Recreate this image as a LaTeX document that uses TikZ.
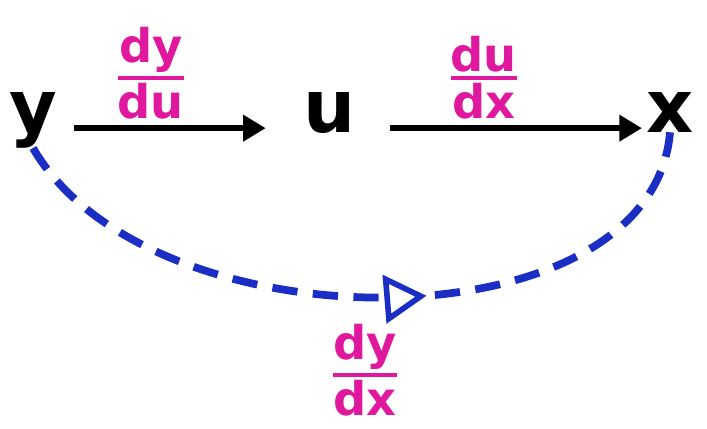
\documentclass[tikz,border=0pt]{standalone}
\usepackage{amsmath}
\usepackage{fontspec}
\setmainfont{DejaVu Sans}
\usetikzlibrary{arrows.meta, positioning, decorations.markings}
\definecolor{derivcol}{HTML}{E0189E}
\definecolor{backcol}{HTML}{1B2EC4}
\newcommand{\deriv}[2]{$\genfrac{}{}{2.6pt}{1}{\mbox{#1}}{\mbox{#2}}$}

\begin{document}
\begin{tikzpicture}[
  x=0.025cm, y=-0.025cm,
  >={Triangle[length=16pt, width=18pt]},
  var/.style={font=\fontsize{52}{56}\selectfont\bfseries, inner sep=0pt, anchor=base},
  dlabel/.style={text=derivcol, font=\fontsize{33}{35}\selectfont\bfseries, inner sep=0pt},
  arr/.style={->, line width=4.5pt},
  backarc/.style={backcol, line width=5.5pt, dash pattern=on 18pt off 11pt,
                  postaction={decorate},
                  decoration={markings, mark=at position 0.58 with
                    {\arrow[line width=4pt]{Triangle[fill=white, length=30pt, width=34pt]}}}}
]
\useasboundingbox (0,0) rectangle (707,428);

%% variables
\node[var] (y) at (33,132)  {y};
\node[var] (u) at (330,132) {u};
\node[var] (x) at (670,132) {x};

%% chain of derivatives
\draw[arr, shorten <=12pt, shorten >=27pt] (y.mid east) --
      node[dlabel, above=4pt, pos=0.38] (dyu) {\deriv{dy}{du}} (u.mid west);
\draw[arr, shorten <=24pt, shorten >=3pt] (u.mid east) --
      node[dlabel, above=4pt, pos=0.44] (dux) {\deriv{du}{dx}} (x.mid west);

%% direct derivative
\draw[backarc] (y.south) .. controls (150,350) and (652,350) .. (x.south);
\node[dlabel] (dyx) at (365,370) {\deriv{dy}{dx}};

\end{tikzpicture}
\end{document}
